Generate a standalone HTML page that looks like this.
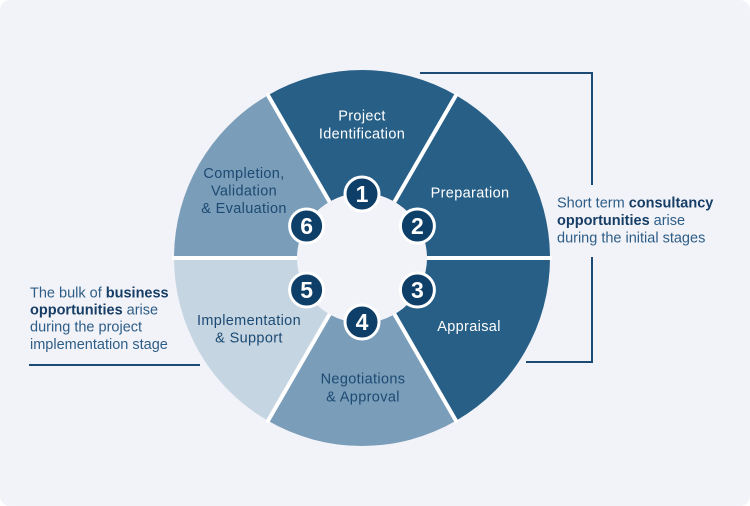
<!DOCTYPE html>
<html>
<head>
<meta charset="utf-8">
<style>
  html, body { margin:0; padding:0; background:#ffffff; }
  body { width:750px; height:506px; overflow:hidden; }
  svg { display:block; }
  text { font-family: "Liberation Sans", Arial, sans-serif; }
  .lbl { font-size:14.5px; letter-spacing:0.35px; text-anchor:middle; }
  .w { fill:#ffffff; }
  .d { fill:#1c4a72; }
  .side { font-size:14.5px; fill:#2d5d87; }
  .side tspan.b { font-weight:bold; fill:#163d66; }
  .num { font-size:23px; font-weight:bold; fill:#ffffff; text-anchor:middle; }
</style>
</head>
<body>
<svg width="750" height="506" viewBox="0 0 750 506" xmlns="http://www.w3.org/2000/svg">
  <rect x="0" y="0" width="750" height="506" rx="10" ry="10" fill="#f2f3f8"/>

  <!-- segments -->
  <!-- 1 top -->
  <path d="M362 258 L268 95.2 A188 188 0 0 1 456 95.2 Z" fill="#275f87"/>
  <!-- 2 -->
  <path d="M362 258 L456 95.2 A188 188 0 0 1 550 258 Z" fill="#275f87"/>
  <!-- 3 -->
  <path d="M362 258 L550 258 A188 188 0 0 1 456 420.8 Z" fill="#275f87"/>
  <!-- 4 -->
  <path d="M362 258 L456 420.8 A188 188 0 0 1 268 420.8 Z" fill="#7a9db9"/>
  <!-- 5 -->
  <path d="M362 258 L268 420.8 A188 188 0 0 1 174 258 Z" fill="#c5d5e2"/>
  <!-- 6 -->
  <path d="M362 258 L174 258 A188 188 0 0 1 268 95.2 Z" fill="#7a9db9"/>

  <!-- white separators -->
  <g stroke="#ffffff" stroke-width="4">
    <line x1="362" y1="258" x2="267" y2="93.5"/>
    <line x1="362" y1="258" x2="457" y2="93.5"/>
    <line x1="362" y1="258" x2="552" y2="258"/>
    <line x1="362" y1="258" x2="457" y2="422.5"/>
    <line x1="362" y1="258" x2="267" y2="422.5"/>
    <line x1="362" y1="258" x2="172" y2="258"/>
  </g>

  <!-- hole -->
  <circle cx="362" cy="258" r="65" fill="#f2f3f8"/>

  <!-- number circles -->
  <g fill="#0e3f68" stroke="#ffffff" stroke-width="3">
    <circle cx="362" cy="194" r="17"/>
    <circle cx="417.4" cy="226" r="17"/>
    <circle cx="417.4" cy="290" r="17"/>
    <circle cx="362" cy="322" r="17"/>
    <circle cx="306.6" cy="290" r="17"/>
    <circle cx="306.6" cy="226" r="17"/>
  </g>
  <text class="num" x="362" y="202">1</text>
  <text class="num" x="417.4" y="234">2</text>
  <text class="num" x="417.4" y="298">3</text>
  <text class="num" x="362" y="330">4</text>
  <text class="num" x="306.6" y="298">5</text>
  <text class="num" x="306.6" y="234">6</text>

  <!-- segment labels -->
  <text class="lbl w" x="362" y="120.5">Project</text>
  <text class="lbl w" x="362" y="138.5">Identification</text>

  <text class="lbl w" x="470" y="197.5">Preparation</text>

  <text class="lbl w" x="469" y="331">Appraisal</text>

  <text class="lbl d" x="363" y="383.5">Negotiations</text>
  <text class="lbl d" x="363" y="401.5">&amp; Approval</text>

  <text class="lbl d" x="249" y="325">Implementation</text>
  <text class="lbl d" x="249" y="342.5">&amp; Support</text>

  <text class="lbl d" x="244" y="178">Completion,</text>
  <text class="lbl d" x="244" y="195.5">Validation</text>
  <text class="lbl d" x="244" y="213">&amp; Evaluation</text>

  <!-- bracket right -->
  <g stroke="#1b4a74" stroke-width="2" fill="none">
    <polyline points="420,73 592,73 592,185"/>
    <polyline points="592,257 592,362 526,362"/>
    <line x1="29" y1="365" x2="200" y2="365"/>
  </g>

  <!-- right text -->
  <text class="side" x="557" y="207.3">Short term <tspan class="b">consultancy</tspan></text>
  <text class="side" x="557" y="224.8"><tspan class="b">opportunities</tspan> arise</text>
  <text class="side" x="557" y="242.3">during the initial stages</text>

  <!-- left text -->
  <text class="side" x="30" y="297.3">The bulk of <tspan class="b">business</tspan></text>
  <text class="side" x="30" y="314.5"><tspan class="b">opportunities</tspan> arise</text>
  <text class="side" x="30" y="331.7">during the project</text>
  <text class="side" x="30" y="349">implementation stage</text>
</svg>
</body>
</html>
